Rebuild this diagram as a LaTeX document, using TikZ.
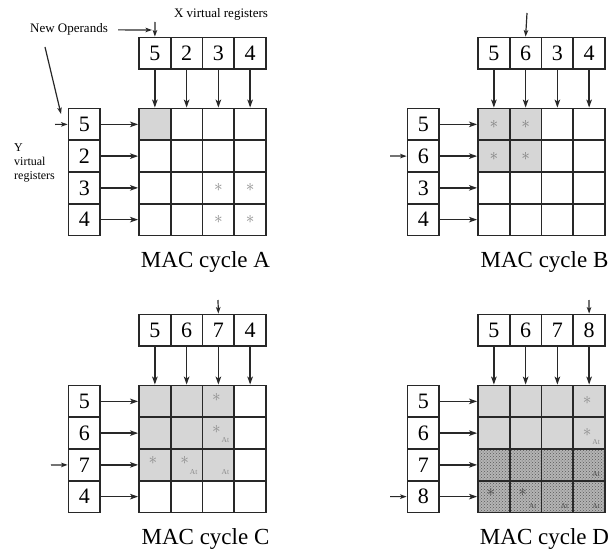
\documentclass[tikz,border=0pt]{standalone}
\usepackage{fontspec}
\setmainfont{Liberation Serif}
\usetikzlibrary{arrows.meta,patterns}

\definecolor{cellshade}{RGB}{214,214,214}
\definecolor{stipplebg}{RGB}{180,180,180}
\definecolor{inkgray}{RGB}{140,140,140}
\definecolor{linegray}{RGB}{40,40,40}

\tikzset{
  box/.style={draw=linegray, line width=1.8pt, minimum size=31.75pt, inner sep=0pt,
              font=\fontsize{22}{22}\selectfont},
  gridcell/.style={draw=linegray, line width=1.8pt, minimum size=31.75pt, inner sep=0pt},
  lightcell/.style={fill=cellshade},
  stipplecell/.style={preaction={fill=stipplebg}, pattern=crosshatch dots, pattern color=black!65},
  arr/.style={-{Stealth[length=8pt,width=5.5pt,inset=2pt]}, line width=1.5pt, draw=linegray},
  feed/.style={-{Stealth[length=6.5pt,width=4.5pt,inset=1.5pt]}, line width=1.2pt, draw=linegray},
  note/.style={font=\fontsize{13}{14}\selectfont, inner sep=0pt},
  caption/.style={font=\fontsize{23}{23}\selectfont, inner sep=0pt, anchor=base},
  star/.style={text=inkgray, font=\fontsize{18}{18}\selectfont, inner sep=0pt},
  tag/.style={text=inkgray, font=\fontsize{7.5}{7.5}\selectfont, inner sep=0pt},
  onstipple/.style={text=black!70},
  % shaded cells of each cycle
  Ac11/.style={lightcell},
  Bc11/.style={lightcell}, Bc12/.style={lightcell}, Bc21/.style={lightcell}, Bc22/.style={lightcell},
  Cc11/.style={lightcell}, Cc12/.style={lightcell}, Cc13/.style={lightcell},
  Cc21/.style={lightcell}, Cc22/.style={lightcell}, Cc23/.style={lightcell},
  Cc31/.style={lightcell}, Cc32/.style={lightcell}, Cc33/.style={lightcell},
  Dc11/.style={lightcell}, Dc12/.style={lightcell}, Dc13/.style={lightcell}, Dc14/.style={lightcell},
  Dc21/.style={lightcell}, Dc22/.style={lightcell}, Dc23/.style={lightcell}, Dc24/.style={lightcell},
  Dc31/.style={stipplecell}, Dc32/.style={stipplecell}, Dc33/.style={stipplecell}, Dc34/.style={stipplecell},
  Dc41/.style={stipplecell}, Dc42/.style={stipplecell}, Dc43/.style={stipplecell}, Dc44/.style={stipplecell},
}

% #1 prefix, #2 x shift, #3 y shift, #4 X register values, #5 Y register values, #6 cycle letter
\newcommand\macpanel[6]{%
  \begin{scope}[shift={(#2,#3)}]
    \foreach \d [count=\i] in {#4}
      \node[box] (#1-x\i) at ({139+(\i-0.5)*31.75},53.4) {\d};
    \foreach \d [count=\r] in {#5}
      \node[box] (#1-y\r) at (84.4,{108.5+(\r-0.5)*31.75}) {\d};
    \foreach \r in {1,...,4}
      \foreach \c in {1,...,4}
        \node[gridcell, #1c\r\c/.try] (#1-g\r\c) at ({139+(\c-0.5)*31.75},{108.5+(\r-0.5)*31.75}) {};
    \foreach \i in {1,...,4}
      \draw[arr] (#1-x\i) -- (#1-g1\i);
    \foreach \r in {1,...,4}
      \draw[arr] (#1-y\r) -- (#1-g\r1);
    \node[caption] (#1-cap) at (205.5,267) {MAC cycle #6};
  \end{scope}}

\begin{document}
\begin{tikzpicture}[x=1pt,y=-1pt]
  \useasboundingbox (0,0) rectangle (613,551);
  \fill[white] (0,0) rectangle (613,551);

  \macpanel{A}{0}{0}{5,2,3,4}{5,2,3,4}{A}
  \macpanel{B}{339}{0}{5,6,3,4}{5,6,3,4}{B}
  \macpanel{C}{0}{277}{5,6,7,4}{5,6,7,4}{C}
  \macpanel{D}{339}{277}{5,6,7,8}{5,6,7,8}{D}

  % labels and operand feeds of cycle A
  \node[note, anchor=base] (xlabel) at (221,17.5) {X virtual registers};
  \node[note, anchor=base west] (newops) at (30,33) {New Operands};
  \node[note, anchor=north west, align=left, font=\fontsize{12}{14}\selectfont] (ylabel) at (14,143) {Y\\virtual\\registers};
  \coordinate (A-xin) at (155,22);
  \coordinate (opstip) at (152,30);
  \draw[feed] (A-xin) -- (A-x1.north);
  \draw[feed] ([xshift=10pt]newops.east) -- (opstip);
  \coordinate (ytail) at (45,47);
  \coordinate (yhead) at (61,114);
  \draw[feed] (ytail) -- (yhead);
  \coordinate (A-yin) at (55,124.4);
  \draw[feed] (A-yin) -- (A-y1.west);

  % operand feeds of cycles B, C, D
  \coordinate (B-xin) at (527,13);
  \draw[feed] (B-xin) -- (B-x2.north);
  \coordinate (B-yin) at (390,156);
  \draw[feed] (B-yin) -- (B-y2.west);
  \coordinate (C-xin) at (218,300);
  \draw[feed] (C-xin) -- (C-x3.north);
  \coordinate (C-yin) at (51,465);
  \draw[feed] (C-yin) -- (C-y3.west);
  \coordinate (D-xin) at (589,300);
  \draw[feed] (D-xin) -- (D-x4.north);
  \coordinate (D-yin) at (390,496.6);
  \draw[feed] (D-yin) -- (D-y4.west);

  % products of cycle A
  \foreach \cell in {A-g33,A-g34,A-g43,A-g44}
    \node[star] at (\cell) {$\ast$};
  % products of cycle B
  \foreach \cell in {B-g11,B-g12,B-g21,B-g22}
    \node[star, text=gray] at (\cell) {$\ast$};
  % products of cycle C
  \foreach \cell in {C-g13,C-g23,C-g31,C-g32}
    \node[star, xshift=-2pt, yshift=4pt] at (\cell) {$\ast$};
  \foreach \cell in {C-g23,C-g32,C-g33}
    \node[tag, xshift=7pt, yshift=-7pt] at (\cell) {At};
  % products of cycle D
  \foreach \cell in {D-g14,D-g24}
    \node[star, xshift=-2pt, yshift=1pt] at (\cell) {$\ast$};
  \foreach \cell in {D-g41,D-g42}
    \node[star, onstipple, xshift=-3pt, yshift=4pt] at (\cell) {$\ast$};
  \node[tag, xshift=7pt, yshift=-9pt] at (D-g24) {At};
  \foreach \cell in {D-g34,D-g42,D-g43,D-g44}
    \node[tag, onstipple, xshift=7pt, yshift=-9pt] at (\cell) {At};
\end{tikzpicture}
\end{document}
